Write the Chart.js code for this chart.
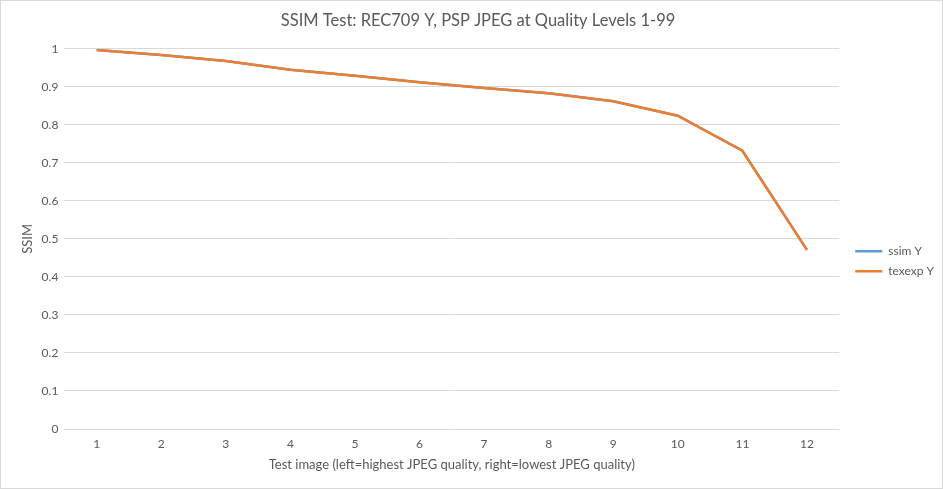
<!DOCTYPE html>
<html>
<head>
<meta charset="utf-8">
<script src="https://cdn.jsdelivr.net/npm/chart.js@4.4.0/dist/chart.umd.min.js"></script>
<style>
    html, body { margin: 0; padding: 0; background: #fff; }
    #wrap { position: relative; width: 941px; height: 487px; border: 1px solid #d9d9d9; }
</style>
</head>
<body>
<div id="wrap"><canvas id="ssimChart"></canvas></div>
<script>
const testImages = ["1", "2", "3", "4", "5", "6", "7", "8", "9", "10", "11", "12"]
const ssimY = [0.997, 0.984, 0.968, 0.945, 0.929, 0.912, 0.897, 0.883, 0.862, 0.824, 0.732, 0.471]
const texexpY = [0.997, 0.984, 0.968, 0.945, 0.929, 0.912, 0.897, 0.883, 0.862, 0.824, 0.732, 0.471]

const textColor = "#595959"
const fontFamily = "Lato, 'Open Sans', sans-serif"

// push the legend entries a bit away from the plot, like the Excel original
const nudgeLegend = {
    id: "nudgeLegend",
    afterLayout(chart) {
        chart.legend.left += 8
        chart.legend.right += 8
    }
}

const ssimChart = new Chart(
    document.getElementById("ssimChart"),
    {
        type: "line",
        data: {
            labels: testImages,
            datasets: [{
                label: "ssim Y",
                data: ssimY,
                borderColor: "#5b9bd5",
                backgroundColor: "#5b9bd5",
                borderWidth: 2.5,
                pointRadius: 0,
                order: 1
            }, {
                label: "texexp Y",
                data: texexpY,
                borderColor: "#ed7d31",
                backgroundColor: "#ed7d31",
                borderWidth: 2.5,
                pointRadius: 0,
                order: 0
            }]
        },
        plugins: [nudgeLegend],
        options: {
            responsive: true,
            maintainAspectRatio: false,
            animation: false,
            layout: {
                padding: { top: 6, right: 6, bottom: 11, left: 19 }
            },
            plugins: {
                title: {
                    display: true,
                    text: "SSIM Test: REC709 Y, PSP JPEG at Quality Levels 1-99",
                    color: textColor,
                    font: { family: fontFamily, size: 16.5, weight: "normal" },
                    padding: { top: 4, bottom: 18 }
                },
                legend: {
                    position: "right",
                    title: {
                        display: true,
                        text: " ",
                        padding: 12
                    },
                    labels: {
                        color: textColor,
                        font: { family: fontFamily, size: 12 },
                        usePointStyle: true,
                        pointStyle: "line",
                        pointStyleWidth: 27,
                        padding: 8,
                        sort: (a, b) => a.datasetIndex - b.datasetIndex
                    }
                },
                tooltip: { enabled: false }
            },
            scales: {
                x: {
                    offset: true,
                    grid: { display: false, drawTicks: false },
                    border: { display: false },
                    ticks: {
                        color: textColor,
                        font: { family: fontFamily, size: 12 },
                        padding: 8
                    },
                    title: {
                        display: true,
                        text: "Test image (left=highest JPEG quality, right=lowest JPEG quality)",
                        color: textColor,
                        font: { family: fontFamily, size: 13 },
                        padding: { top: -2, bottom: 4 }
                    }
                },
                y: {
                    min: 0,
                    max: 1,
                    ticks: {
                        stepSize: 0.1,
                        color: textColor,
                        font: { family: fontFamily, size: 12 },
                        padding: 6,
                        callback: (value) => String(Math.round(value * 10) / 10)
                    },
                    grid: { color: "#d9d9d9", drawTicks: false },
                    border: { display: false },
                    title: {
                        display: true,
                        text: "SSIM",
                        color: textColor,
                        font: { family: fontFamily, size: 13 },
                        padding: { top: 0, bottom: 0 }
                    }
                }
            }
        }
    }
)
</script>
</body>
</html>
